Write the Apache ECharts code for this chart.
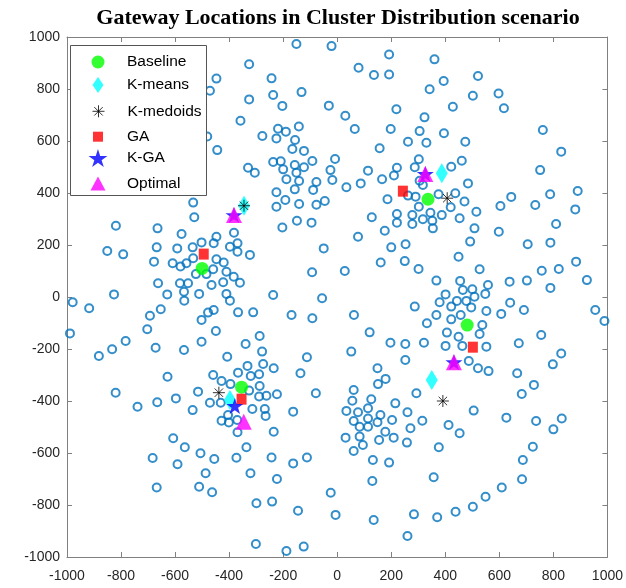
<!DOCTYPE html>
<html><head><meta charset="utf-8">
<script src="https://cdn.jsdelivr.net/npm/echarts/dist/echarts.min.js"></script>
<style>html,body{margin:0;padding:0;background:#fff}#c{width:626px;height:588px}</style>
</head><body><div id="c"></div>
<script>
// sensor nodes (blue open circles)
const nodes = [
[-151,973],[-21,965],[-326,895],[-447,840],[-243,841],[-471,793],[-326,760],[-237,777],[-132,788],[-203,735],[-31,736],[30,697],[-358,678],[-481,617],[-277,619],[-219,647],[-225,610],[-190,636],[-142,656],[-156,604],[-166,569],[-123,562],[-444,565],[-237,519],[-209,522],[-200,491],[-157,508],[-123,499],[-92,523],[-8,531],[-25,488],[-330,497],[-305,478],[-151,478],[-188,453],[-141,446],[-77,442],[-18,450],[34,422],[-225,403],[-157,414],[-89,412],[-192,373],[-46,369],[-77,355],[-225,347],[-141,358],[-533,363],
[192,933],[79,882],[136,854],[192,856],[360,914],[521,850],[394,831],[342,799],[502,774],[428,732],[219,722],[65,646],[198,646],[323,691],[305,638],[395,630],[262,597],[330,593],[474,597],[157,572],[302,530],[461,524],[422,501],[221,497],[287,499],[114,486],[210,467],[166,453],[305,447],[484,437],[87,437],[317,431],[186,376],[262,390],[290,386],[375,395],[437,399],[471,367],[302,347],
[128,307],[221,319],[221,286],[278,315],[317,299],[345,324],[352,293],[354,264],[387,315],[420,345],[453,303],[515,328],[508,264],[278,281],[77,232],[176,255],[200,191],[253,203],[492,213],[449,155],[161,133],[250,138],[301,108],[28,100],[527,107],[367,63],[455,62],[465,27],[500,30],[508,1],[548,12],[401,10],[379,-20],[443,-15],[478,-15],[422,-37],[496,-40],[287,-37],[552,-54],[367,-69],[457,-69],[422,-86],[62,-69],[332,-101],[537,-108],[406,-137],[449,-153],[527,-142],[120,-136],[197,-176],[252,-181],[321,-176],[401,-188],[463,-188],[552,-191],[52,-210],[252,-242],[487,-246],[521,-274],[149,-274],[560,-285],[179,-315],
[604,350],[644,385],[733,354],[881,337],[810,281],[598,251],[705,203],[789,209],[884,136],[820,108],[757,101],[924,65],[638,59],[702,63],[789,35],[558,46],[640,-22],[691,-50],[607,-65],[955,-50],[989,-92],[755,-146],[672,-178],[829,-217],[798,-259],[666,-293],
[597,783],[617,726],[761,642],[829,559],[751,488],[788,395],[890,408],
[-529,307],[-819,274],[-665,264],[-576,242],[-447,232],[-668,191],[-592,187],[-535,191],[-502,210],[-457,207],[-851,177],[-792,164],[-678,136],[-609,130],[-580,117],[-558,130],[-533,149],[-523,88],[-484,88],[-459,107],[-663,53],[-582,53],[-552,53],[-465,46],[-826,10],[-629,10],[-567,20],[-566,-14],[-511,12],[-979,-20],[-918,-43],[-653,-47],[-693,-72],[-502,-88],[-478,-60],[-457,-50],[-703,-124],[-449,-131],[-989,-140],[-783,-169],[-833,-201],[-882,-227],[-672,-195],[-567,-204],[-502,-172],[-628,-307],[-459,-300],
[-203,267],[-149,293],[-95,286],[-50,187],[-93,95],[-382,247],[-397,193],[-369,207],[-369,174],[-323,162],[-447,145],[-420,133],[-410,97],[-383,78],[-360,55],[-422,57],[-237,8],[-410,12],[-397,-14],[-56,-5],[-367,-59],[-311,-59],[-169,-69],[-92,-82],[-339,-181],[-287,-150],[-278,-210],[-407,-230],[-332,-265],[-274,-258],[-235,-274],[-367,-291],[-289,-297],[-320,-304],[-136,-293],[-112,-232],
[-820,-368],[-739,-422],[-666,-405],[-597,-390],[-515,-364],[-535,-435],[-471,-407],[-428,-323],[-395,-335],[-287,-342],[-326,-360],[-289,-383],[-262,-380],[-223,-374],[-79,-370],[-431,-407],[-314,-431],[-268,-431],[-265,-458],[-163,-441],[-428,-476],[-401,-483],[-404,-454],[-370,-473],[-369,-520],[-235,-518],[-607,-543],[-564,-578],[-336,-578],[-683,-619],[-591,-643],[-506,-601],[-455,-623],[-373,-618],[-243,-617],[-163,-640],[-112,-617],[-487,-678],[-321,-678],[-223,-700],[-668,-733],[-511,-730],[-463,-751],[-299,-793],[-241,-787],[-145,-822],[-301,-950],[-188,-977],[-124,-960],
[151,-335],[61,-358],[56,-399],[126,-393],[215,-409],[293,-370],[34,-438],[77,-443],[114,-428],[160,-454],[61,-477],[114,-467],[149,-482],[203,-473],[260,-443],[315,-476],[83,-499],[114,-499],[178,-518],[271,-505],[31,-541],[83,-537],[155,-550],[209,-541],[258,-560],[95,-569],[61,-592],[132,-627],[192,-637],[130,-708],[357,-693],[376,-578],[412,-492],[453,-524],[505,-437],[626,-464],[736,-477],[831,-467],[800,-509],[728,-338],[683,-373],[724,-576],[687,-627],[684,-701],[609,-733],[549,-768],[502,-807],[438,-826],[370,-847],[284,-836],[260,-919],[135,-858],[-6,-838],[-24,-753]
];
// gateway locations per method
const baseline = [[-500,110],[336,376],[481,-108],[-354,-347]];
const kmeans   = [[-345,351],[387,476],[350,-319],[-397,-396]];
const kmedoids = [[-345,351],[407,380],[391,-400],[-438,-368]];
const ga       = [[-494,165],[243,407],[502,-193],[-354,-393]];
const kga      = [[-382,315],[326,473],[432,-251],[-379,-419]];
const optimal  = [[-382,315],[326,473],[432,-251],[-346,-480]];
const axisTicks = [-1000,-800,-600,-400,-200,0,200,400,600,800,1000];

const STAR = 'path://M50 0 L61.2 34.5 L97.6 34.5 L68.2 55.9 L79.4 90.5 L50 69.1 L20.6 90.5 L31.8 55.9 L2.4 34.5 L38.8 34.5 Z';
const AST = 'path://M0 6 L12 6 M6 0 L6 12 M1.8 1.8 L10.2 10.2 M10.2 1.8 L1.8 10.2';

const gw = [
  {name:'Baseline', data:baseline, symbol:'circle', size:[13,13], legSize:[13,13], style:{color:'#00FF00', borderWidth:0}},
  {name:'K-means', data:kmeans, symbol:'diamond', size:[12,20], legSize:[11,16], style:{color:'#00FFFF', borderWidth:0}},
  {name:'K-medoids', data:kmedoids, symbol:AST, size:[12,12], legSize:[12,12], style:{color:'rgba(0,0,0,0)', borderColor:'#000', borderWidth:1}},
  {name:'GA', data:ga, symbol:'rect', size:[10,11], legSize:[10,10], style:{color:'#FF0000', borderWidth:0}},
  {name:'K-GA', data:kga, symbol:STAR, size:[17,16], legSize:[19,18], style:{color:'#0000FF', borderWidth:0}},
  {name:'Optimal', data:optimal, symbol:'triangle', size:[16,16], legSize:[15,14], style:{color:'#FF00FF', borderWidth:0}}
];

const FONT = '"Liberation Sans", Arial, sans-serif';
const axisLine = {show:true, onZero:false, lineStyle:{color:'#808080', width:1}};
const tick = {show:true, inside:true, length:5, lineStyle:{color:'#808080'}};
const lbl = {color:'#262626', fontSize:14, fontFamily:FONT, formatter: v => String(v),
  customValues: axisTicks};

const legends = gw.map((g,i)=>{
  const w = g.legSize[0], h = g.legSize[1];
  const cy = 60.5 + 24.4*i;
  return {
    data:[g.name], selectedMode:false, orient:'horizontal',
    left: 98 - w/2, top: cy - h/2, padding:0, itemGap:0,
    itemWidth:w, itemHeight:h, icon:g.symbol,
    itemStyle: Object.assign({}, g.style),
    textStyle:{fontSize:15.5, fontFamily:FONT, color:'#000', lineHeight:h, padding:[0,0,0,24 - w/2]},
    z:5
  };
});

const chart = echarts.init(document.getElementById('c'), null, {renderer:'canvas'});
chart.setOption({
  animation:false,
  backgroundColor:'#fff',
  title:{text:'Gateway Locations in Cluster Distribution scenario', left:338, top:7, padding:0, textAlign:'center',
    textStyle:{fontFamily:'"Liberation Serif", "Times New Roman", serif', fontWeight:'bold', fontSize:22, color:'#000'}},
  grid:{left:67, right:18, top:37, bottom:31, containLabel:false},
  xAxis:[
    {type:'value', min:-1000, max:1000, interval:200, position:'bottom', axisLine, axisTick:tick,
     axisLabel:Object.assign({margin:12}, lbl), splitLine:{show:false}},
    {type:'value', min:-1000, max:1000, interval:200, position:'top', axisLine, axisTick:tick,
     axisLabel:{show:false}, splitLine:{show:false}}
  ],
  yAxis:[
    {type:'value', min:-1000, max:1000, interval:200, position:'left', axisLine, axisTick:tick,
     axisLabel:Object.assign({margin:7}, lbl), splitLine:{show:false}},
    {type:'value', min:-1000, max:1000, interval:200, position:'right', axisLine, axisTick:tick,
     axisLabel:{show:false}, splitLine:{show:false}}
  ],
  legend: legends,
  graphic:[{type:'rect', z:3, shape:{x:70.5, y:45.5, width:136, height:150},
    style:{fill:'#fff', stroke:'#555', lineWidth:1}}],
  series:[
    {type:'scatter', name:'nodes', data:nodes, symbol:'circle', symbolSize:8, silent:true,
     itemStyle:{color:'rgba(0,0,0,0)', borderColor:'#0072BD', borderWidth:2}, z:2}
  ].concat(gw.map(g=>({
    type:'scatter', name:g.name, data:g.data, symbol:g.symbol, symbolSize:g.size, silent:true,
    itemStyle:g.style, z:2
  })))
});
</script>
</body></html>
